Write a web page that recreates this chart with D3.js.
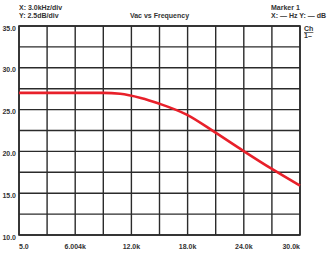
<!DOCTYPE html>
<html>
<head>
<meta charset="utf-8">
<script src="https://cdn.jsdelivr.net/npm/d3@7"></script>
<style>
  body { margin: 0; background: #fff; }
  text { font-family: "Liberation Sans", Arial, sans-serif; font-weight: bold; font-size: 7px; fill: #333; }
</style>
</head>
<body>
<div id="chart"></div>
<script>
// frequency (Hz) and Vac (dB)
const freq = [0, 3000, 6000, 9000, 10800, 13000, 15000, 17900, 20900, 23900, 27000, 30000];
const vac = [27.0, 27.0, 27.0, 27.0, 26.9, 26.4, 25.7, 24.4, 22.3, 20.1, 17.9, 15.9];

const yTicks = [10, 15, 20, 25, 30, 35];
const yTickLabels = ["10.0", "15.0", "20.0", "25.0", "30.0", "35.0"];
const xTicks = [0, 6000, 12000, 18000, 24000, 30000];
const xTickLabels = ["5.0", "6.004k", "12.0k", "18.0k", "24.0k", "30.0k"];

const W = 327, H = 254;
const margin = { top: 26, right: 27, bottom: 19, left: 19 };
const width = W - margin.left - margin.right;
const height = H - margin.top - margin.bottom;

const svg = d3.select("#chart")
  .append("svg")
  .attr("width", W)
  .attr("height", H);

const g = svg.append("g")
  .attr("transform", `translate(${margin.left},${margin.top})`);

const x = d3.scaleLinear().domain([0, 30000]).range([0, width]);
const y = d3.scaleLinear().domain([10, 35]).range([height, 0]);

// grid, 10 x 10 divisions
const xGrid = d3.range(0, 30001, 3000);
const yGrid = d3.range(10, 35.01, 2.5);

g.selectAll(".vgrid")
  .data(xGrid)
  .join("line")
  .attr("x1", d => x(d)).attr("x2", d => x(d))
  .attr("y1", 0).attr("y2", height)
  .attr("stroke", "#2b2b2b")
  .attr("stroke-width", 1.4);

g.selectAll(".hgrid")
  .data(yGrid)
  .join("line")
  .attr("x1", 0).attr("x2", width)
  .attr("y1", d => y(d)).attr("y2", d => y(d))
  .attr("stroke", "#2b2b2b")
  .attr("stroke-width", 1.4);

g.append("rect")
  .attr("width", width)
  .attr("height", height)
  .attr("fill", "none")
  .attr("stroke", "#2b2b2b")
  .attr("stroke-width", 1.6);

// y labels
g.selectAll(".ylab")
  .data(yTicks)
  .join("text")
  .attr("x", -3)
  .attr("y", d => y(d) + 4.5)
  .attr("text-anchor", "end")
  .text((d, i) => yTickLabels[i]);

// x labels
g.selectAll(".xlab")
  .data(xTicks)
  .join("text")
  .attr("x", d => x(d))
  .attr("y", height + 13.5)
  .attr("text-anchor", (d, i) => i === 0 ? "start" : (i === xTicks.length - 1 ? "end" : "middle"))
  .text((d, i) => xTickLabels[i]);

// trace
const line = d3.line()
  .x(d => x(d[0]))
  .y(d => y(d[1]))
  .curve(d3.curveMonotoneX);

g.append("path")
  .datum(freq.map((f, i) => [f, vac[i]]))
  .attr("fill", "none")
  .attr("stroke", "#e8202a")
  .attr("stroke-width", 2.6)
  .attr("d", line);

// header texts
svg.append("text").attr("x", 19).attr("y", 10).text("X: 3.0kHz/div");
svg.append("text").attr("x", 19).attr("y", 17.5).text("Y: 2.5dB/div");
svg.append("text")
  .attr("x", margin.left + width / 2)
  .attr("y", 17.5)
  .attr("text-anchor", "middle")
  .text("Vac vs Frequency");
svg.append("text").attr("x", 271).attr("y", 10).text("Marker 1");
svg.append("text").attr("x", 271).attr("y", 17.5).text("X: — Hz  Y: — dB");

svg.append("text")
  .attr("x", 304).attr("y", 31)
  .style("text-decoration", "underline")
  .text("Ch");
svg.append("text").attr("x", 304).attr("y", 38).text("1–");
</script>
</body>
</html>
